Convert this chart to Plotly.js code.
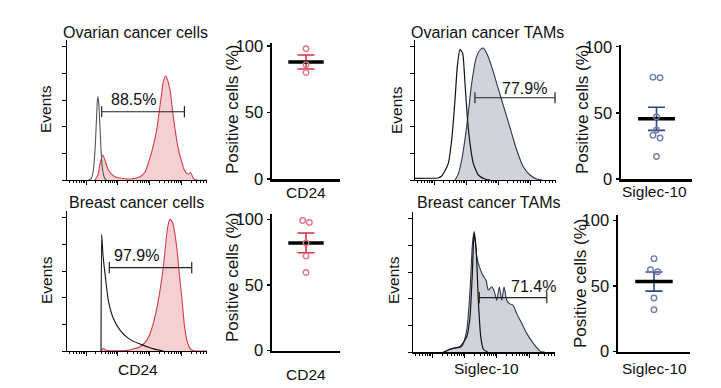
<!DOCTYPE html>
<html>
<head>
<meta charset="utf-8">
<script src="https://cdn.plot.ly/plotly-3.0.1.min.js"></script>
<style>html,body{margin:0;padding:0;background:#fff;}#chart{width:721px;height:388px;}</style>
</head>
<body>
<div id="chart"></div>
<script>
// ---------- DATA ----------
// Histograms: x = log10 fluorescence (decades), y = events (% of axis scale)
const ovCellsIsoX = [1.08, 1.16, 1.22, 1.28, 1.32, 1.35, 1.37, 1.40, 1.44, 1.48, 1.53, 1.58, 1.64];
const ovCellsIsoY = [0, 1, 6, 22, 42, 58, 62.5, 57, 38, 18, 6, 1.5, 0];
const ovCellsCD24X = [1.28, 1.374, 1.437, 1.522, 1.594, 1.689, 1.814, 1.909, 2.066, 2.38, 2.694, 2.852, 2.96, 3.062, 3.134, 3.219, 3.29, 3.376, 3.43, 3.502, 3.56, 3.637, 3.741, 3.848, 3.92, 4.005, 4.077, 4.162, 4.219, 4.288, 4.37, 4.476, 4.8];
const ovCellsCD24Y = [0, 4, 12, 18.8, 15, 8, 4, 2.5, 1.5, 0.8, 2.5, 6, 13, 21, 28, 37.5, 50, 65, 74, 78, 75, 67.5, 47.5, 30, 21, 13.7, 8, 5, 4.5, 5.5, 1.3, 0, 0];

const brCellsIsoX = [1.469, 1.49, 1.531, 1.594, 1.698, 1.855, 2.066, 2.327, 2.694, 3.009, 3.27, 3.427];
const brCellsIsoY = [0, 87.5, 72, 58, 38, 24.5, 15.7, 9.5, 5.2, 2.5, 0.7, 0];
const brCellsCD24X = [1.469, 1.54, 1.626, 2.276, 2.47, 2.694, 2.905, 3.009, 3.112, 3.27, 3.427, 3.565, 3.637, 3.722, 3.848, 3.92, 4.005, 4.109, 4.212, 4.319, 4.423, 4.8];
const brCellsCD24Y = [0, 2, 0.5, 0.5, 1.5, 3.2, 8, 13, 20.7, 38, 63, 93, 98.7, 96, 78, 60, 40.7, 15.7, 4.5, 0.7, 0, 0];

const ovTamIsoX = [0.4, 0.9, 1.118, 1.233, 1.336, 1.439, 1.545, 1.648, 1.72, 1.804, 1.888, 1.96, 2.032, 2.116, 2.219, 2.375, 2.584, 2.74];
const ovTamIsoY = [1.2, 1.3, 1.5, 3, 7, 12.5, 30, 60, 85, 98, 95, 72.5, 47.5, 27.5, 12.5, 3.75, 0.75, 0];
const ovTamSiglecX = [1.648, 1.742, 1.857, 2.013, 2.169, 2.303, 2.428, 2.531, 2.637, 2.793, 2.949, 3.105, 3.261, 3.417, 3.573, 3.779, 3.988, 4.197, 4.362];
const ovTamSiglecY = [0, 4, 15, 40, 72.5, 91, 97.5, 99, 95, 85, 72.5, 60, 47.5, 35, 22.5, 10, 3.75, 0.75, 0];

const brTamIsoX = [1.339, 1.547, 1.857, 2.065, 2.167, 2.238, 2.291, 2.353, 2.424, 2.499, 2.579, 2.725];
const brTamIsoY = [0, 2.3, 4.3, 11.7, 26.7, 59, 89, 79, 39, 11.7, 2.3, 0];
const brTamSiglecX = [1.339, 1.649, 1.91, 2.065, 2.167, 2.251, 2.3, 2.375, 2.455, 2.561, 2.663, 2.734, 2.84, 2.92, 2.995, 3.075, 3.15, 3.221, 3.305, 3.385, 3.491, 3.615, 3.77, 3.925, 4.129, 4.337, 4.492];
const brTamSiglecY = [0, 3, 4.3, 16.7, 46.7, 84, 90.5, 71.7, 64.2, 58, 54, 46.7, 49.2, 45.5, 39, 49, 39, 49, 39, 36.5, 35.5, 29, 21.7, 14.2, 6.7, 0.9, 0];

// Gates (positive region), in log10 fluorescence units, and their heights
const gateLabels = ['88.5%', '97.9%', '77.9%', '71.4%'];
const gateFrom = [1.49, 1.73, 2.27, 2.455];
const gateTo = [4.09, 4.32, 4.77, 4.545];
const gateLevel = [51.2, 62.5, 61.7, 41];

// Positive cells (%) per sample
const ovCellsPct = [98, 86, 80];
const brCellsPct = [99, 97.5, 82, 72, 59.5];
const ovTamPct = [77, 76.5, 47, 37, 33, 31, 17];
const brTamPct = [71, 62.5, 61, 41, 32];

const scatterTicks = [0, 50, 100];
const histYTicks = [0, 20, 40, 60, 80, 100];
const decades = [1, 2, 3, 4];

// ---------- STYLE ----------
const FONT = 'Liberation Sans, Arial, sans-serif';
const TXT = '#111';
const RED = '#d43d4a', PINK = 'rgba(232,150,158,0.45)';
const NAVY = '#2c3550', GREYFILL = 'rgba(195,196,206,0.75)';
const RED_PT = '#e07a86', RED_ERR = '#d8323f';
const NAVY_PT = '#6f7fa8', NAVY_ERR = '#2b4878';

const W = 721, H = 388;
const px = x => x / W, py = y => (H - y) / H;

const minorVals = [];
decades.concat([0]).forEach(d => { for (let k = 2; k <= 9; k++) { const v = d + Math.log10(k); if (v > 0.4 && v < 4.8) minorVals.push(v); } });

const traces = [];
const layout = {
  width: W, height: H, margin: {l: 0, r: 0, t: 0, b: 0},
  paper_bgcolor: '#fff', plot_bgcolor: 'rgba(0,0,0,0)',
  showlegend: false, font: {family: FONT, color: TXT, size: 16},
  annotations: []
};

function histAxes(n, xd, yd) {
  layout['xaxis' + n] = {
    domain: xd, range: [0.4, 4.8], anchor: 'y' + n, showgrid: false, zeroline: false,
    showline: true, linecolor: '#000', linewidth: 1.3, ticks: 'outside', ticklen: 4, tickwidth: 1,
    tickcolor: '#000', tickmode: 'array', tickvals: decades, showticklabels: false, fixedrange: true,
    minor: {tickmode: 'array', tickvals: minorVals, ticks: 'outside', ticklen: 2, tickwidth: 1, tickcolor: '#000', showgrid: false}
  };
  layout['yaxis' + n] = {
    domain: yd, range: [0, 105], anchor: 'x' + n, showgrid: false, zeroline: false,
    showline: true, linecolor: '#000', linewidth: 1.3, ticks: 'outside', ticklen: 4, tickwidth: 1,
    tickcolor: '#000', tickmode: 'array', tickvals: histYTicks, showticklabels: false, fixedrange: true
  };
}
function scatAxes(n, xd, yd, ymax) {
  layout['xaxis' + n] = {
    domain: xd, range: [0, 2], anchor: 'y' + n, showgrid: false, zeroline: false,
    showline: true, linecolor: '#000', linewidth: 2.5, ticks: '', showticklabels: false, fixedrange: true
  };
  layout['yaxis' + n] = {
    domain: yd, range: [0, ymax], anchor: 'x' + n, showgrid: false, zeroline: false,
    showline: true, linecolor: '#000', linewidth: 2.5, ticks: 'outside', ticklen: 3, tickwidth: 1.5,
    tickcolor: '#000', tickmode: 'array', tickvals: scatterTicks, ticktext: scatterTicks.map(String),
    tickfont: {family: FONT, size: 16.5, color: TXT}, fixedrange: true
  };
}

function hist(n, fx, fy, fillCol, lineCol, ctrlX, ctrlY, ctrlCol, ctrlW) {
  traces.push({x: fx, y: fy, xaxis: 'x' + n, yaxis: 'y' + n, type: 'scatter', mode: 'lines',
    line: {color: lineCol, width: 1.1, shape: 'spline', smoothing: 0.7}, fill: 'tozeroy', fillcolor: fillCol, hoverinfo: 'skip'});
  traces.push({x: ctrlX, y: ctrlY, xaxis: 'x' + n, yaxis: 'y' + n, type: 'scatter', mode: 'lines',
    line: {color: ctrlCol, width: ctrlW, shape: 'spline', smoothing: 0.5}, hoverinfo: 'skip'});
}
function gate(n, i, labX, labY) {
  traces.push({x: [gateFrom[i], gateTo[i]], y: [gateLevel[i], gateLevel[i]], xaxis: 'x' + n, yaxis: 'y' + n,
    type: 'scatter', mode: 'lines+markers', line: {color: '#222', width: 1.2},
    marker: {symbol: 'line-ns', size: 8, line: {color: '#222', width: 1.2}}, hoverinfo: 'skip'});
  layout.annotations.push({xref: 'x' + n, yref: 'y' + n, x: labX, y: labY, text: gateLabels[i],
    showarrow: false, font: {family: FONT, size: 16, color: TXT}, xanchor: 'center', yanchor: 'middle'});
}
function dots(n, vals, ptCol, errCol) {
  const m = vals.reduce((a, b) => a + b, 0) / vals.length;
  const sd = Math.sqrt(vals.reduce((a, v) => a + (v - m) * (v - m), 0) / (vals.length - 1));
  const sem = sd / Math.sqrt(vals.length);
  // simple beeswarm: spread close values sideways
  const xs = vals.map(() => 1);
  const idx = vals.map((v, i) => i).sort((a, b) => vals[b] - vals[a]);
  for (let k = 1; k < idx.length; k++) {
    if (Math.abs(vals[idx[k]] - vals[idx[k - 1]]) < 3.5 && xs[idx[k - 1]] === 1) {
      xs[idx[k - 1]] = 0.9; xs[idx[k]] = 1.1;
    }
  }
  traces.push({x: [1], y: [m], xaxis: 'x' + n, yaxis: 'y' + n, type: 'scatter', mode: 'lines',
    line: {color: errCol, width: 0}, error_y: {type: 'data', array: [sem], visible: true, color: errCol, thickness: 1.6, width: 8.5}, hoverinfo: 'skip'});
  traces.push({x: [0.48, 1.52], y: [m, m], xaxis: 'x' + n, yaxis: 'y' + n, type: 'scatter', mode: 'lines',
    line: {color: '#000', width: 3.5}, hoverinfo: 'skip'});
  traces.push({x: xs, y: vals, xaxis: 'x' + n, yaxis: 'y' + n, type: 'scatter', mode: 'markers',
    marker: {symbol: 'circle-open', size: 5.5, color: ptCol, line: {width: 1.4, color: ptCol}}, hoverinfo: 'skip'});
}

// ---------- PANELS ----------
histAxes('', [px(67), px(207)], [py(180), py(40)]);
scatAxes(2, [px(272), px(340)], [py(179), py(42.7)], 102.5);
histAxes(3, [px(415), px(556)], [py(180), py(40)]);
scatAxes(4, [px(621), px(692)], [py(179), py(45)], 101.3);
histAxes(5, [px(67), px(207)], [py(351), py(211)]);
scatAxes(6, [px(272), px(340)], [py(350.7), py(214)], 104);
histAxes(7, [px(413), px(555)], [py(352.3), py(212.3)]);
scatAxes(8, [px(618), px(690)], [py(351.7), py(215)], 104.3);
layout.xaxis = layout['xaxis']; layout.yaxis = layout['yaxis'];
layout.xaxis.anchor = 'y'; layout.yaxis.anchor = 'x';

function hn(n) { return n === '' ? '' : n; }
// histograms (first trace uses axis 'x'/'y')
function histPanel(n, fx, fy, fillCol, lineCol, cx, cy, cc, cw) {
  const start = traces.length;
  hist(n, fx, fy, fillCol, lineCol, cx, cy, cc, cw);
  if (n === '') for (let i = start; i < traces.length; i++) { traces[i].xaxis = 'x'; traces[i].yaxis = 'y'; }
}
histPanel('', ovCellsCD24X, ovCellsCD24Y, PINK, RED, ovCellsIsoX, ovCellsIsoY, '#555', 1.1);
histPanel(5, brCellsCD24X, brCellsCD24Y, PINK, RED, brCellsIsoX, brCellsIsoY, '#111', 1.1);
histPanel(3, ovTamSiglecX, ovTamSiglecY, GREYFILL, NAVY, ovTamIsoX, ovTamIsoY, '#111', 1.2);
histPanel(7, brTamSiglecX, brTamSiglecY, GREYFILL, NAVY, brTamIsoX, brTamIsoY, '#111', 1.2);

// gates
(function () {
  const s = traces.length;
  gate('', 0, 2.48, 60);
  traces[s].xaxis = 'x'; traces[s].yaxis = 'y';
  layout.annotations[layout.annotations.length - 1].xref = 'x';
  layout.annotations[layout.annotations.length - 1].yref = 'y';
})();
gate(5, 1, 2.59, 71.5);
gate(3, 2, 3.83, 68.8);
gate(7, 3, 4.13, 49.2);

dots(2, ovCellsPct, RED_PT, RED_ERR);
dots(6, brCellsPct, RED_PT, RED_ERR);
dots(4, ovTamPct, NAVY_PT, NAVY_ERR);
dots(8, brTamPct, NAVY_PT, NAVY_ERR);

// ---------- TEXT ----------
function txt(t, x, y, size, rot) {
  layout.annotations.push({xref: 'paper', yref: 'paper', x: px(x), y: py(y), text: t, showarrow: false,
    xanchor: 'center', yanchor: 'middle', textangle: rot || 0, font: {family: FONT, size: size, color: TXT}});
}
txt('Ovarian cancer cells', 135.5, 32, 16);
txt('Ovarian cancer TAMs', 487.5, 32, 16);
txt('Breast cancer cells', 136, 202.5, 16);
txt('Breast cancer TAMs', 488, 202.5, 16);
txt('Events', 45, 109, 15.5, -90);
txt('Events', 46, 280, 15.5, -90);
txt('Events', 396, 110, 15.5, -90);
txt('Events', 393, 280, 15.5, -90);
txt('Positive cells (%)', 232, 110, 17, -90);
txt('Positive cells (%)', 232, 278, 17, -90);
txt('Positive cells (%)', 582, 110, 17, -90);
txt('Positive cells (%)', 580, 284, 17, -90);
txt('CD24', 305.5, 192.5, 15.5);
txt('CD24', 306, 374, 15.5);
txt('Siglec-10', 654, 191, 15.5);
txt('Siglec-10', 654, 368, 15.5);
txt('CD24', 137.5, 369, 15.5);
txt('Siglec-10', 486, 368, 15.5);

Plotly.newPlot('chart', traces, layout, {staticPlot: true, displayModeBar: false});
</script>
</body>
</html>
